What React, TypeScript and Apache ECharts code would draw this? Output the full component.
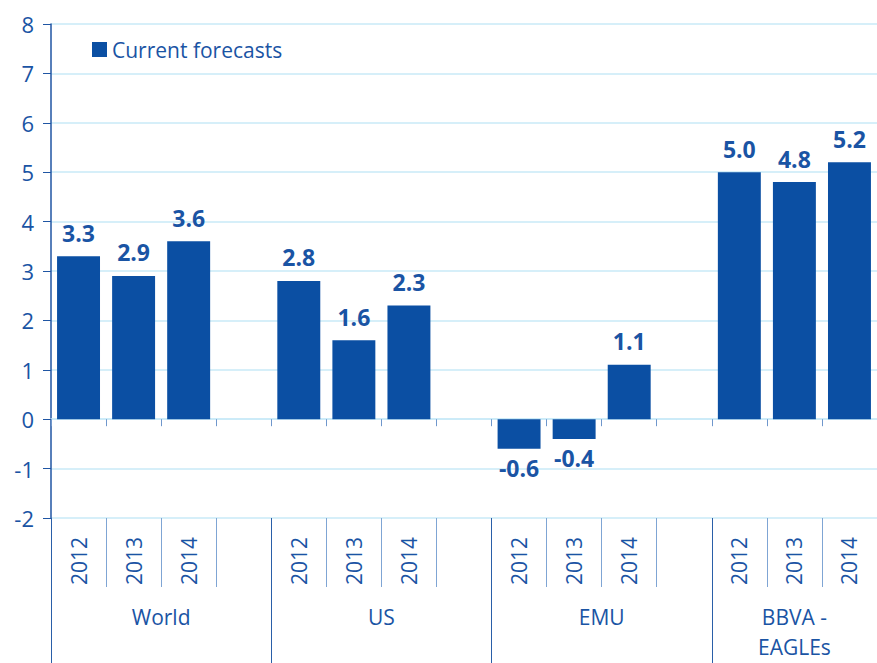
import React, { useEffect, useRef } from "react";
import * as echarts from "echarts";

const yearLabels = ["2012", "2013", "2014", "", "2012", "2013", "2014", "", "2012", "2013", "2014", "", "2012", "2013", "2014"];
const forecastValues: (number | string)[] = [3.3, 2.9, 3.6, "-", 2.8, 1.6, 2.3, "-", -0.6, -0.4, 1.1, "-", 5.0, 4.8, 5.2];
const groupNames = ["World", "US", "EMU", "BBVA -\nEAGLEs"];
const groupCenters = [2, 6, 10, 13.5];
const groupStarts = [0, 4, 8, 12];
const seriesName = "Current forecasts";

const BLUE = "#0b4fa3";
const TXT = "#1a54a4";
const GRID = "#c9eaf7";

export default function App() {
  const ref = useRef<HTMLDivElement>(null);
  useEffect(() => {
    if (!ref.current) return;
    const chart = echarts.init(ref.current, undefined, { renderer: "svg" });
    const font = "'Open Sans', 'Noto Sans', sans-serif";
    chart.setOption({
      animation: false,
      textStyle: { fontFamily: font },
      legend: {
        data: [seriesName],
        left: 87,
        top: 34,
        itemWidth: 15,
        itemHeight: 15,
        itemGap: 6,
        icon: "rect",
        textStyle: { color: TXT, fontSize: 21, fontFamily: font },
      },
      grid: { left: 51, right: 0, top: 24, bottom: 145, containLabel: false, outerBoundsMode: "none" },
      xAxis: [
        {
          type: "category",
          data: yearLabels,
          position: "bottom",
          axisLine: { show: true, onZero: true, lineStyle: { color: GRID, width: 1.5 } },
          axisTick: { show: true, interval: 0, length: 7, lineStyle: { color: "#6f97cc" } },
          axisLabel: { show: false },
          splitLine: { show: false },
        },
        {
          type: "category",
          data: yearLabels,
          position: "bottom",
          axisLine: { show: false, onZero: false },
          axisTick: { show: true, interval: 0, length: 69, lineStyle: { color: "#7fa5d4" } },
          axisLabel: {
            show: true,
            interval: 0,
            rotate: 90,
            margin: 19,
            color: TXT,
            fontSize: 21,
            fontFamily: font,
          },
        },
        {
          type: "category",
          data: yearLabels,
          position: "bottom",
          axisLine: { show: false, onZero: false },
          axisTick: {
            show: true,
            length: 145,
            interval: (idx: number) => groupStarts.indexOf(idx) >= 0,
            lineStyle: { color: "#2a5fa8" },
          },
          axisLabel: { show: false },
        },
        {
          type: "value",
          position: "bottom",
          min: 0,
          max: 15,
          interval: 0.5,
          axisLine: { show: false, onZero: false },
          axisTick: { show: false },
          splitLine: { show: false },
          axisLabel: {
            show: true,
            margin: 84,
            color: TXT,
            fontSize: 21,
            lineHeight: 30,
            fontFamily: font,
            formatter: (v: number) => {
              const i = groupCenters.indexOf(v);
              return i >= 0 ? groupNames[i] : "";
            },
          },
        },
      ],
      yAxis: {
        type: "value",
        min: -2,
        max: 8,
        interval: 1,
        axisLine: { show: true, lineStyle: { color: "#1f55a3", width: 1.5 } },
        axisTick: { show: true, length: 8, lineStyle: { color: "#1f55a3" } },
        axisLabel: { color: TXT, fontSize: 22, margin: 17, fontFamily: font },
        splitLine: { show: true, lineStyle: { color: GRID, width: 1.5 } },
      },
      series: [
        {
          name: seriesName,
          type: "bar",
          xAxisIndex: 0,
          barCategoryGap: "22%",
          itemStyle: { color: BLUE },
          label: {
            show: true,
            position: "top",
            distance: 12,
            color: TXT,
            fontSize: 23,
            fontWeight: 700,
            fontFamily: font,
            formatter: (p: any) => Number(p.value).toFixed(1),
          },
          data: forecastValues.map((v) =>
            typeof v === "number" && v < 0 ? { value: v, label: { position: "bottom", distance: 8 } } : v
          ),
        },
      ],
    });
    return () => chart.dispose();
  }, []);
  return (
    <div
      ref={ref}
      style={{ position: "fixed", left: 0, top: 0, width: 877, height: 663, background: "#fff" }}
    />
  );
}
